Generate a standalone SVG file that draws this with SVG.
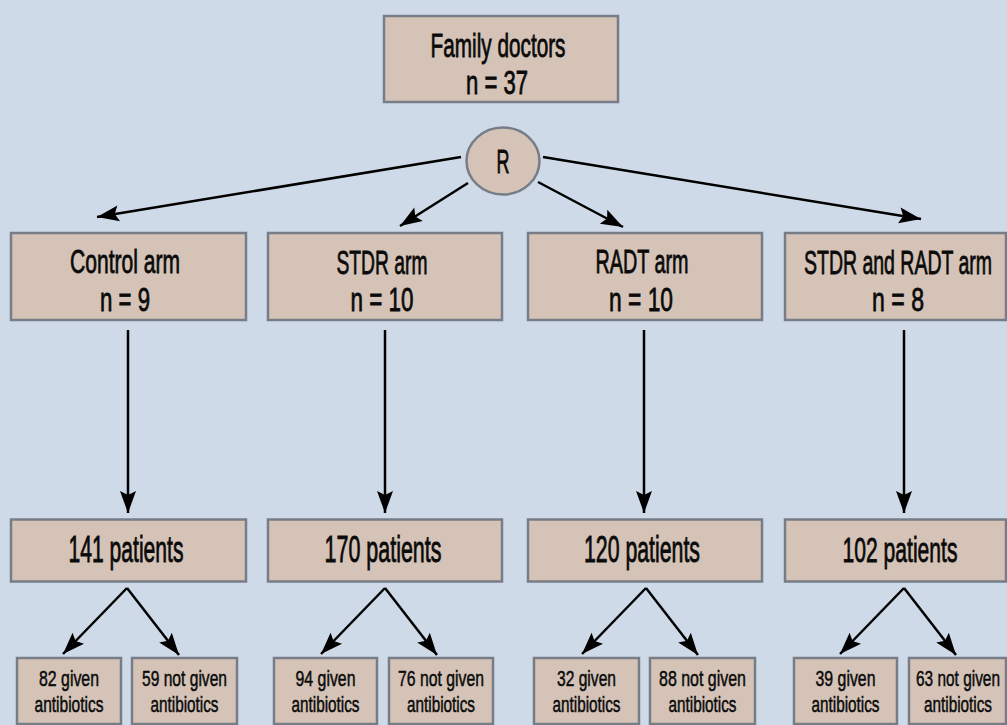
<svg xmlns="http://www.w3.org/2000/svg" width="1007" height="725" viewBox="0 0 1007 725">
<defs>
<marker id="ah" viewBox="-23 -9 25 18" refX="0" refY="0" markerWidth="25" markerHeight="18" markerUnits="userSpaceOnUse" orient="auto">
<path d="M0,0 L-22,-8 L-18,0 L-22,8 Z" fill="#000"/>
</marker>
<style>
.box{fill:#d4c3b6;stroke:#777d86;stroke-width:2.5}
.t{font-family:"Liberation Sans",Arial,sans-serif;fill:#0a0a0a;stroke:#0a0a0a;text-anchor:middle}
.l{font-size:34px;stroke-width:0.8}
.p{font-size:36px;stroke-width:0.8}
.s{font-size:22.5px;stroke-width:0.5}
.c line{stroke:#000;stroke-width:2.5;marker-end:url(#ah)}
</style>
</defs>
<rect width="1007" height="725" fill="#cfdae8"/>

<g id="family">
<rect class="box" x="384" y="16" width="234" height="86"/>
<text class="t l" x="498" y="57" textLength="135" lengthAdjust="spacingAndGlyphs">Family doctors</text>
<text class="t l" x="497" y="94" textLength="62" lengthAdjust="spacingAndGlyphs">n = 37</text>
</g>

<g id="R">
<ellipse class="box" cx="503" cy="161" rx="36.5" ry="33.5"/>
<text class="t l" x="503" y="173" textLength="13" lengthAdjust="spacingAndGlyphs">R</text>
</g>

<g id="control">
<rect class="box" x="11" y="233" width="235" height="87"/>
<text class="t l" x="125" y="273" textLength="110" lengthAdjust="spacingAndGlyphs">Control arm</text>
<text class="t l" x="125" y="311" textLength="50" lengthAdjust="spacingAndGlyphs">n = 9</text>
</g>
<g id="stdr">
<rect class="box" x="268" y="233" width="234" height="87"/>
<text class="t l" x="382" y="274" textLength="91" lengthAdjust="spacingAndGlyphs">STDR arm</text>
<text class="t l" x="382" y="311" textLength="63" lengthAdjust="spacingAndGlyphs">n = 10</text>
</g>
<g id="radt">
<rect class="box" x="528" y="233" width="234" height="87"/>
<text class="t l" x="642" y="273" textLength="93" lengthAdjust="spacingAndGlyphs">RADT arm</text>
<text class="t l" x="641" y="311" textLength="64" lengthAdjust="spacingAndGlyphs">n = 10</text>
</g>
<g id="stdrradt">
<rect class="box" x="785" y="233" width="221" height="87"/>
<text class="t l" transform="translate(898,274) scale(0.572,1)" x="0" y="0" textLength="328.7" lengthAdjust="spacingAndGlyphs">STDR and RADT arm</text>
<text class="t l" x="898" y="311" textLength="52" lengthAdjust="spacingAndGlyphs">n = 8</text>
</g>

<g id="p141">
<rect class="box" x="11" y="519.5" width="235" height="62"/>
<text class="t p" x="126" y="562" textLength="115" lengthAdjust="spacingAndGlyphs">141 patients</text>
</g>
<g id="p170">
<rect class="box" x="268" y="519.5" width="234" height="62"/>
<text class="t p" x="383" y="562" textLength="117" lengthAdjust="spacingAndGlyphs">170 patients</text>
</g>
<g id="p120">
<rect class="box" x="528" y="519.5" width="234" height="62"/>
<text class="t p" x="642" y="562" textLength="116" lengthAdjust="spacingAndGlyphs">120 patients</text>
</g>
<g id="p102">
<rect class="box" x="785" y="519.5" width="221" height="62"/>
<text class="t p" transform="translate(900,562) scale(0.586,1)" x="0" y="0" textLength="196.2" lengthAdjust="spacingAndGlyphs">102 patients</text>
</g>

<g id="c82">
<rect class="box" x="17" y="658" width="104" height="66"/>
<text class="t s" x="69" y="686" textLength="60" lengthAdjust="spacingAndGlyphs">82 given</text>
<text class="t s" x="69" y="712" textLength="69" lengthAdjust="spacingAndGlyphs">antibiotics</text>
</g>
<g id="c59">
<rect class="box" x="132" y="658" width="105" height="66"/>
<text class="t s" x="184.5" y="686" textLength="85" lengthAdjust="spacingAndGlyphs">59 not given</text>
<text class="t s" x="184.5" y="712" textLength="68" lengthAdjust="spacingAndGlyphs">antibiotics</text>
</g>
<g id="c94">
<rect class="box" x="274" y="658" width="103" height="66"/>
<text class="t s" x="325.5" y="686" textLength="60" lengthAdjust="spacingAndGlyphs">94 given</text>
<text class="t s" x="325.5" y="712" textLength="68" lengthAdjust="spacingAndGlyphs">antibiotics</text>
</g>
<g id="c76">
<rect class="box" x="389" y="658" width="104" height="66"/>
<text class="t s" x="441" y="686" textLength="86" lengthAdjust="spacingAndGlyphs">76 not given</text>
<text class="t s" x="441" y="712" textLength="68" lengthAdjust="spacingAndGlyphs">antibiotics</text>
</g>
<g id="c32">
<rect class="box" x="534" y="658" width="105" height="66"/>
<text class="t s" x="586.5" y="686" textLength="59" lengthAdjust="spacingAndGlyphs">32 given</text>
<text class="t s" x="586.5" y="712" textLength="68" lengthAdjust="spacingAndGlyphs">antibiotics</text>
</g>
<g id="c88">
<rect class="box" x="650" y="658" width="105" height="66"/>
<text class="t s" x="702.5" y="686" textLength="87" lengthAdjust="spacingAndGlyphs">88 not given</text>
<text class="t s" x="702.5" y="712" textLength="68" lengthAdjust="spacingAndGlyphs">antibiotics</text>
</g>
<g id="c39">
<rect class="box" x="794" y="658" width="103" height="66"/>
<text class="t s" x="845.5" y="686" textLength="60" lengthAdjust="spacingAndGlyphs">39 given</text>
<text class="t s" x="845.5" y="712" textLength="68" lengthAdjust="spacingAndGlyphs">antibiotics</text>
</g>
<g id="c63">
<rect class="box" x="909" y="658" width="97" height="66"/>
<text class="t s" transform="translate(958,686) scale(0.685,1)" x="0" y="0" textLength="122.6" lengthAdjust="spacingAndGlyphs">63 not given</text>
<text class="t s" transform="translate(958,712) scale(0.68,1)" x="0" y="0" textLength="100" lengthAdjust="spacingAndGlyphs">antibiotics</text>
</g>

<g id="connectors" class="c">
<line x1="461" y1="157" x2="97" y2="217"/>
<line x1="468" y1="183" x2="400" y2="226"/>
<line x1="538" y1="182" x2="623" y2="227"/>
<line x1="543" y1="157" x2="921" y2="219"/>

<line x1="128" y1="330" x2="128" y2="513"/>
<line x1="385" y1="330" x2="385" y2="513"/>
<line x1="644" y1="330" x2="644" y2="513"/>
<line x1="904" y1="330" x2="904" y2="513"/>

<line x1="127" y1="588" x2="63" y2="654"/>
<line x1="127" y1="588" x2="179" y2="655"/>
<line x1="385" y1="588" x2="321" y2="654"/>
<line x1="385" y1="588" x2="437" y2="655"/>
<line x1="646" y1="588" x2="582" y2="654"/>
<line x1="646" y1="588" x2="698" y2="655"/>
<line x1="904" y1="588" x2="840" y2="654"/>
<line x1="904" y1="588" x2="956" y2="655"/>
</g>
</svg>
